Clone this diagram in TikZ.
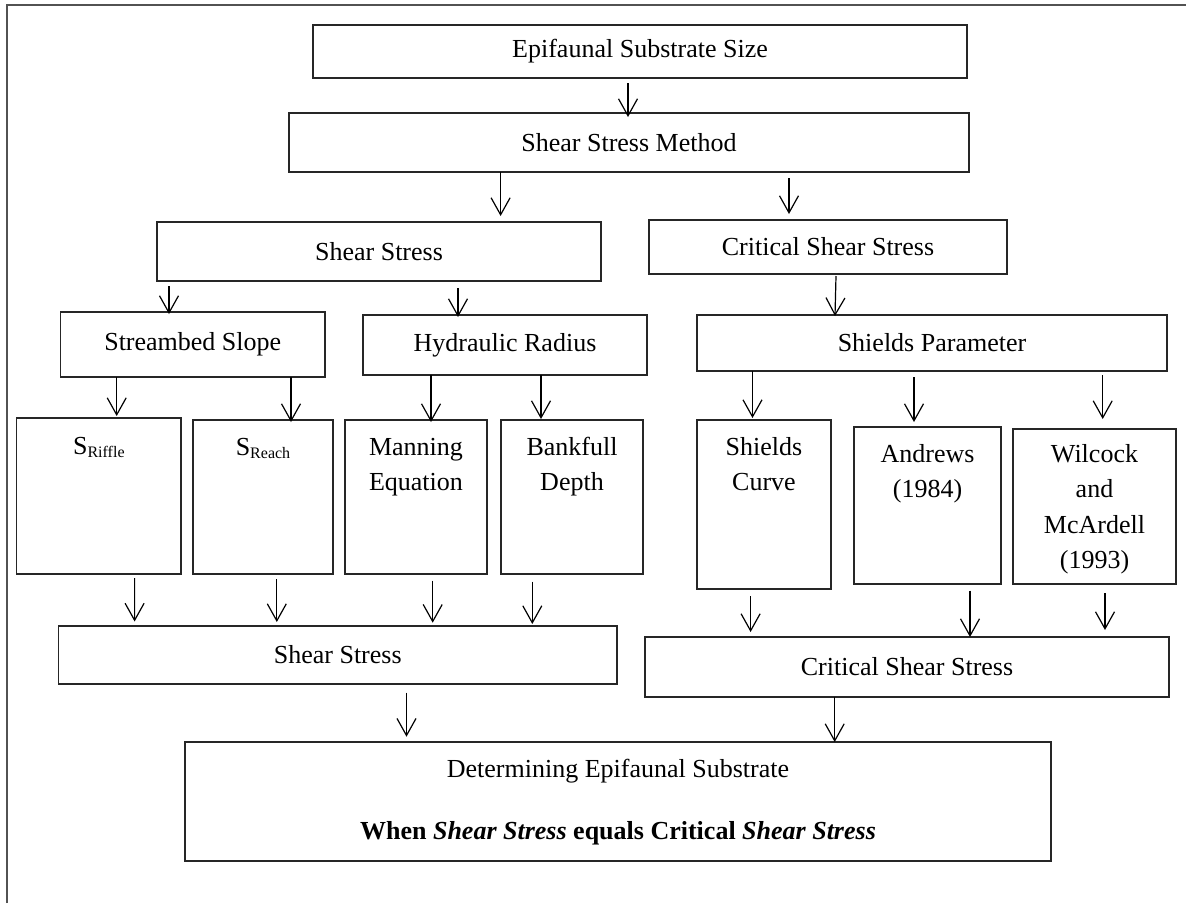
\documentclass[tikz,border=0pt]{standalone}
\usepackage{fontspec}
\setmainfont{Liberation Serif}
\usetikzlibrary{arrows.meta,calc}
\newcommand\fs{\fontsize{26}{35.5}\selectfont}
\newcommand\subfs{\fontsize{16}{16}\selectfont}
\newcommand\bx[6]{\node[box, minimum width={(#4-#2)*1pt}, minimum height={(#5-#3)*1pt}, anchor=north west] (#1) at (#2,#3) {#6};}
\newcommand\tx[3]{\node[lbl, anchor=base] (#1t) at ($(#1.north)+(0,#2)$) {\begin{tabular}[t]{@{}c@{}}#3\end{tabular}};}
\newcommand\link[6]{\draw[arr] ($(#1.south west)+(#2,#3)$) -- ($(#4.north west)+(#5,#6)$);}
\begin{document}
\begin{tikzpicture}[x=1pt,y=-1pt,
  box/.style={draw=black!85, line width=1.2pt, inner sep=0pt, outer sep=0pt, font=\fs, align=center},
  lbl/.style={inner sep=0pt, outer sep=0pt, font=\fs},
  arr/.style={-{Straight Barb[length=17pt,width=19pt]}, line width=1.2pt, draw=black},
  frame/.style={draw=black!68, line width=2pt}]
\path[use as bounding box] (0,0) rectangle (1186,903);
\draw[frame] (6.7,903) -- (6.7,4.7) -- (1186,4.7);
% boxes
\bx{b1}{313}{25}{967}{78}{Epifaunal Substrate Size}
\bx{b2}{289}{113}{969}{172}{Shear Stress Method}
\bx{b3}{157}{222}{601}{281}{Shear Stress}
\bx{b4}{649}{220}{1007}{274}{Critical Shear Stress}
\bx{b5}{60.5}{312}{325}{377}{Streambed Slope}
\bx{b6}{363}{315}{647}{375}{Hydraulic Radius}
\bx{b7}{697}{315}{1167}{371}{Shields Parameter}
\bx{b8}{16.7}{418}{181}{574}{}
\bx{b9}{193}{420}{333}{574}{}
\bx{b10}{345}{420}{487}{574}{}
\bx{b11}{501}{420}{643}{574}{}
\bx{b12}{697}{420}{831}{589}{}
\bx{b13}{854}{427}{1001}{584}{}
\bx{b14}{1013}{429}{1176}{584}{}
\bx{b15}{58.5}{626}{617}{684}{Shear Stress}
\bx{b16}{645}{637}{1169}{697}{Critical Shear Stress}
\bx{b17}{185}{742}{1051}{861}{}
% texts of tall boxes
\tx{b8}{36}{S\raisebox{-3pt}{\subfs Riffle}}
\tx{b9}{35}{S\raisebox{-3pt}{\subfs Reach}}
\tx{b10}{35}{Manning\\Equation}
\tx{b11}{35}{Bankfull\\Depth}
\tx{b12}{35}{Shields\\Curve}
\tx{b13}{35}{Andrews\\(1984)}
\tx{b14}{33.4}{Wilcock\\and\\McArdell\\(1993)}
\tx{b17}{35}{Determining Epifaunal Substrate\\[26.5pt]\textbf{When \textit{Shear Stress} equals Critical \textit{Shear Stress}}}
% connectors
\link{b1}{315}{5}{b2}{339}{4}
\link{b2}{211.6}{0}{b3}{343.6}{-6}
\link{b2}{500}{6}{b4}{140}{-6}
\link{b3}{12}{5}{b5}{108.5}{2}
\link{b3}{301}{7}{b6}{95}{2}
\link{b4}{187}{2}{b7}{138}{1}
\link{b5}{56.2}{0}{b8}{100}{-2}
\link{b5}{230.5}{0}{b9}{98}{2}
\link{b6}{68}{0}{b10}{86}{2}
\link{b6}{178}{0}{b11}{40}{-1}
\link{b7}{55.5}{0}{b12}{55.5}{-2}
\link{b7}{217}{6}{b13}{60}{-5}
\link{b7}{405.7}{4}{b14}{89.7}{-10}
\link{b8}{117.9}{4}{b15}{76.1}{-4.5}
\link{b9}{83.8}{5}{b15}{218.3}{-4}
\link{b10}{87.7}{6.7}{b15}{374.2}{-3.3}
\link{b11}{31.3}{7.7}{b15}{473.8}{-2}
\link{b12}{53.6}{7}{b16}{105.6}{-5}
\link{b13}{116}{6.7}{b16}{325}{0}
\link{b14}{92}{9}{b16}{460}{-7}
\link{b15}{348}{8.7}{b17}{221.5}{-5.3}
\link{b16}{189.7}{0}{b17}{649.7}{0}
\end{tikzpicture}
\end{document}
